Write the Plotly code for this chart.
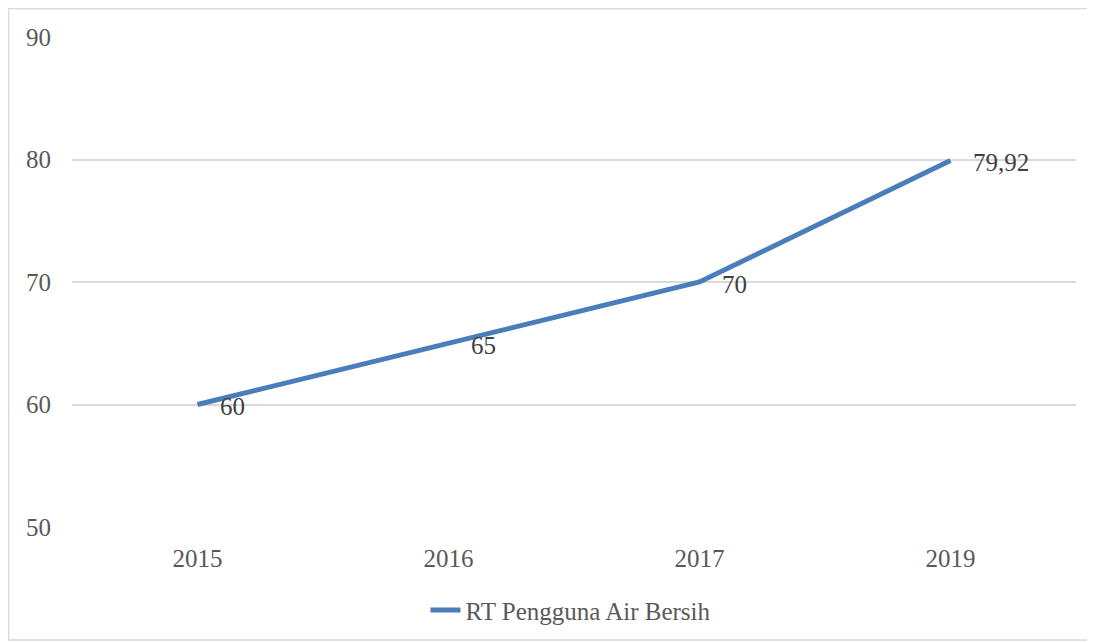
import plotly.graph_objects as go

# Data
YEARS = ['2015', '2016', '2017', '2019']
VALUES = [60, 65, 70, 79.92]
LABELS = ['60', '65', '70', '79,92']
SERIES_NAME = 'RT Pengguna Air Bersih'

LINE_BLUE = '#4a7ebb'
FONT = 'Liberation Serif'

fig = go.Figure()

fig.add_trace(go.Scatter(
    x=YEARS,
    y=VALUES,
    mode='lines',
    name=SERIES_NAME,
    line=dict(color=LINE_BLUE, width=5),
))

# data labels to the right of each point (x given as category index)
for i, (val, lab) in enumerate(zip(VALUES, LABELS)):
    fig.add_annotation(
        x=i, y=val, text=lab,
        xref='x', yref='y',
        showarrow=False,
        xanchor='left', yanchor='middle',
        xshift=20, yshift=-2,
        font=dict(family=FONT, size=25, color='#404040'),
    )

fig.update_layout(
    width=1095,
    height=643,
    margin=dict(l=64, r=27, t=29, b=124, autoexpand=False),
    plot_bgcolor='white',
    paper_bgcolor='white',
    font=dict(family=FONT, size=25, color='#595959'),
    showlegend=True,
    legend=dict(
        orientation='h',
        x=0.497,
        xanchor='center',
        y=-0.17,
        yanchor='middle',
        font=dict(family=FONT, size=25, color='#595959'),
    ),
    # chart border
    shapes=[dict(
        type='rect', xref='paper', yref='paper',
        x0=-0.0632, x1=1.0169, y0=-0.2306, y1=1.058,
        line=dict(color='#d9d9d9', width=1.5),
    )],
)

fig.update_xaxes(
    type='category',
    range=[-0.5, 3.5],
    showgrid=False,
    showline=False,
    zeroline=False,
    ticks='',
    ticklabelstandoff=14,
)
fig.update_yaxes(
    range=[50, 90],
    dtick=10,
    showgrid=True,
    gridcolor='#d9d9d9',
    gridwidth=1.5,
    zeroline=False,
    showline=False,
    ticks='',
    ticklabelstandoff=20,
)

fig.write_html('out.html')
